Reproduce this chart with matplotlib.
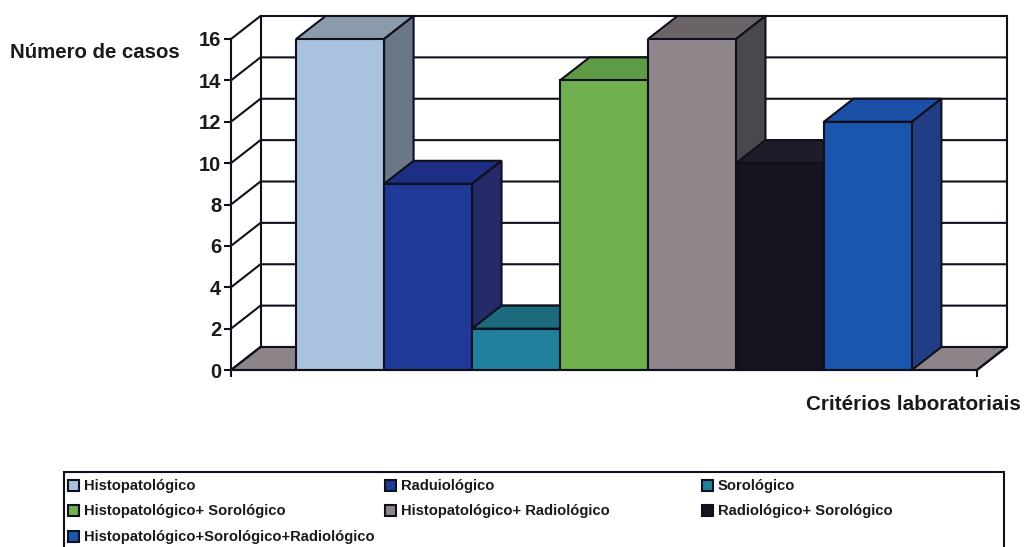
import matplotlib
matplotlib.use("Agg")
import matplotlib.pyplot as plt
from matplotlib.patches import Polygon, Rectangle

categories = ["Histopatológico", "Raduiológico", "Sorológico",
              "Histopatológico+ Sorológico", "Histopatológico+ Radiológico",
              "Radiológico+ Sorológico", "Histopatológico+Sorológico+Radiológico"]
values = [16, 9, 2, 14, 16, 10, 12]
front_colors = ["#a9c3de", "#1f3a98", "#20809e", "#70b04f", "#8e868b", "#15151f", "#1a55ae"]
top_colors = ["#8c9bab", "#1e2e84", "#1b6a7e", "#5f9a45", "#6a6468", "#1d1c28", "#1c4fa8"]
side_colors = ["#6c7785", "#252a68", "#1b5566", "#4b7a38", "#4b474f", "#12121a", "#213d85"]
y_ticks = list(range(0, 17, 2))
y_label = "Número de casos"
x_label = "Critérios laboratoriais"

W, H = 1024, 547
INK = "#10101c"
LW = 1.5
plt.rcParams["font.family"] = ["Liberation Sans", "DejaVu Sans"]
plt.rcParams["font.weight"] = "bold"

fig = plt.figure(figsize=(W / 100, H / 100), dpi=100, facecolor="white")
x_px0, x_px1, y_px0, y_px1 = 231, 977, 370, 39
ax = fig.add_axes([x_px0 / W, 1 - y_px0 / H, (x_px1 - x_px0) / W, (y_px0 - y_px1) / H])
ax.patch.set_alpha(0)
gap = 0.74
x0, x1 = -gap, len(values) + gap
ax.set_xlim(x0, x1)
ax.set_ylim(0, 16)
dx = 29.5 / ((x_px1 - x_px0) / (x1 - x0))
dy = 23 / ((y_px0 - y_px1) / 16)

# floor
ax.add_patch(Polygon([(x0, 0), (x0 + dx, dy), (x1 + dx, dy), (x1, 0)], closed=True,
                     fc="#8c8489", ec=INK, lw=LW, clip_on=False, zorder=1))
# walls and grid
for v in y_ticks:
    ax.plot([x0, x0 + dx, x1 + dx], [v, v + dy, v + dy], color=INK, lw=LW, clip_on=False, zorder=1.5)
ax.plot([x0 + dx, x0 + dx], [dy, 16 + dy], color=INK, lw=LW, clip_on=False, zorder=1.5)
ax.plot([x1 + dx, x1 + dx], [dy, 16 + dy], color=INK, lw=LW, clip_on=False, zorder=1.5)
ax.plot([x1, x1 + dx], [0, dy], color=INK, lw=LW, clip_on=False, zorder=1.5)

# bars
for i, v in enumerate(values):
    z = 2 + i * 0.1
    ax.add_patch(Polygon([(i, v), (i + dx, v + dy), (i + 1 + dx, v + dy), (i + 1, v)], closed=True,
                         fc=top_colors[i], ec=INK, lw=LW, clip_on=False, zorder=z))
    ax.add_patch(Polygon([(i + 1, 0), (i + 1 + dx, dy), (i + 1 + dx, v + dy), (i + 1, v)], closed=True,
                         fc=side_colors[i], ec=INK, lw=LW, clip_on=False, zorder=z))
    ax.bar(i + 0.5, v, width=1, color=front_colors[i], edgecolor=INK, lw=LW, zorder=z + 0.05)

for s in ("top", "right"):
    ax.spines[s].set_visible(False)
for s in ("left", "bottom"):
    ax.spines[s].set_color(INK)
    ax.spines[s].set_linewidth(LW)
    ax.spines[s].set_zorder(5)
ax.set_yticks(y_ticks)
ax.set_xticks([x0, x1])
ax.set_xticklabels([])
ax.tick_params(axis="both", color=INK, width=LW, length=5, pad=2)
ax.tick_params(axis="y", labelsize=14.5, labelcolor="#1a1a1a")

fig.text(10 / W, 1 - 53 / H, y_label, fontsize=14.7, color="#1a1a1a", va="center", ha="left")
fig.text(806 / W, 1 - 405 / H, x_label, fontsize=14.85, color="#1a1a1a", va="center", ha="left")

# legend
fig.add_artist(Rectangle((64 / W, 1 - 552 / H), 940 / W, 80 / H, transform=fig.transFigure,
                         fc="white", ec=INK, lw=LW))
col_px = [68, 385, 702]
row_px = [485, 510, 536]
for n, (name, color) in enumerate(zip(categories, front_colors)):
    row, col = divmod(n, 3)
    x, y = col_px[col], row_px[row]
    fig.add_artist(Rectangle((x / W, 1 - (y + 5.5) / H), 11 / W, 11 / H, transform=fig.transFigure,
                             fc=color, ec=INK, lw=1.5))
    fig.text((x + 16) / W, 1 - (y + 1) / H, name, fontsize=10.65, color="#1a1a1a", va="center", ha="left")

fig.savefig("out.png", dpi=100)
